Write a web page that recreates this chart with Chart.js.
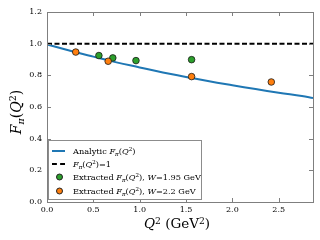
<!DOCTYPE html>
<html>
<head>
<meta charset="utf-8">
<script src="https://cdn.jsdelivr.net/npm/chart.js@4"></script>
<style>
  html, body { margin: 0; padding: 0; background: #fff; }
  #wrap { position: relative; width: 320px; height: 240px; font-family: "DejaVu Serif", serif; color: #000; }
  #chart { position: absolute; left: 0; top: 0; }
  .ttl { position: absolute; white-space: nowrap; line-height: 1; }
  .ttl sup, .leg sup { font-size: 68%; vertical-align: 0.5em; line-height: 0; }
  .ttl sub, .leg sub { font-size: 68%; vertical-align: -0.3em; line-height: 0; }
  #xtitle { left: 177px; top: 224px; font-size: 13.5px; transform: translate(-50%, -50%); }
  #ytitle { left: 16px; top: 112px; font-size: 14px; transform: translate(-50%, -50%) rotate(-90deg); }
  #legend { position: absolute; left: 48px; top: 140px; width: 152px; height: 58px; border: 1px solid #8c8c8c; background: #fff; }
  .leg { position: absolute; left: 24px; font-size: 8.2px; line-height: 1; white-space: nowrap; transform: translateY(-50%); }
  .sw-line { position: absolute; left: 3px; width: 13px; height: 0; }
  .sw-dot { position: absolute; left: 7px; width: 5px; height: 5px; border-radius: 50%; border: 0.8px solid #222; transform: translateY(-50%); }
</style>
</head>
<body>
<div id="wrap">
  <canvas id="chart" width="320" height="240"></canvas>
  <div class="ttl" id="xtitle"><i>Q</i><sup>2</sup> (GeV<sup>2</sup>)</div>
  <div class="ttl" id="ytitle"><i>F</i><sub><i>π</i></sub>(<i>Q</i><sup>2</sup>)</div>
  <div id="legend">
    <div class="sw-line" style="top:9px;border-top:2px solid #1f77b4"></div>
    <div class="leg" style="top:10px">Analytic <i>F</i><sub><i>π</i></sub>(<i>Q</i><sup>2</sup>)</div>
    <div class="sw-line" style="top:22px;border-top:2px dashed #000"></div>
    <div class="leg" style="top:23px"><i>F</i><sub><i>π</i></sub>(<i>Q</i><sup>2</sup>)=1</div>
    <div class="sw-dot" style="top:36px;background:#2ca02c"></div>
    <div class="leg" style="top:36px">Extracted <i>F</i><sub><i>π</i></sub>(<i>Q</i><sup>2</sup>), <i>W</i>=1.95 GeV</div>
    <div class="sw-dot" style="top:50px;background:#ff7f0e"></div>
    <div class="leg" style="top:50px">Extracted <i>F</i><sub><i>π</i></sub>(<i>Q</i><sup>2</sup>), <i>W</i>=2.2 GeV</div>
  </div>
</div>
<script>
'use strict';

// axis ticks
const xTicks = [0, 0.5, 1.0, 1.5, 2.0, 2.5];
const yTicks = [0, 0.2, 0.4, 0.6, 0.8, 1.0, 1.2];
const X_MAX = 2.87;

// analytic curve
const curveQ2 = [0, 0.25, 0.5, 0.75, 1.0, 1.25, 1.5, 1.75, 2.0, 2.25, 2.5, 2.75, 2.87];
const curveF  = [0.995, 0.955, 0.918, 0.882, 0.850, 0.818, 0.790, 0.762, 0.737, 0.713, 0.690, 0.669, 0.657];

// unity reference line
const unityQ2 = [0, 2.87];
const unityF  = [1.0, 1.0];

// extracted points, W = 1.95 GeV
const w195Q2 = [0.56, 0.71, 0.96, 1.56];
const w195F  = [0.925, 0.910, 0.893, 0.899];

// extracted points, W = 2.2 GeV
const w22Q2 = [0.31, 0.66, 1.56, 2.42];
const w22F  = [0.947, 0.889, 0.792, 0.758];

const pts = (xs, ys) => xs.map((x, i) => ({ x, y: ys[i] }));

const frame = {
  id: 'frame',
  afterDraw(chart) {
    const { ctx, chartArea: a, scales } = chart;
    ctx.save();
    ctx.strokeStyle = '#7f7f7f';
    ctx.lineWidth = 1;
    ctx.beginPath();
    xTicks.forEach(v => {
      const px = Math.round(scales.x.getPixelForValue(v)) + 0.5;
      ctx.moveTo(px, a.bottom); ctx.lineTo(px, a.bottom - 4);
      ctx.moveTo(px, a.top); ctx.lineTo(px, a.top + 4);
    });
    yTicks.forEach(v => {
      const py = Math.round(scales.y.getPixelForValue(v)) + 0.5;
      ctx.moveTo(a.left, py); ctx.lineTo(a.left + 4, py);
      ctx.moveTo(a.right, py); ctx.lineTo(a.right - 4, py);
    });
    ctx.stroke();
    ctx.strokeRect(Math.round(a.left) + 0.5, Math.round(a.top) + 0.5,
      Math.round(a.right - a.left), Math.round(a.bottom - a.top));
    ctx.restore();
  }
};

const tickFont = { family: 'DejaVu Serif', size: 8 };

new Chart(document.getElementById('chart'), {
  type: 'scatter',
  data: {
    datasets: [
      {
        type: 'line', data: pts(curveQ2, curveF), order: 3,
        borderColor: '#1f77b4', borderWidth: 2, pointRadius: 0, tension: 0.4, fill: false,
      },
      {
        type: 'line', data: pts(unityQ2, unityF), order: 2,
        borderColor: '#000', borderWidth: 2, borderDash: [5, 2.5], pointRadius: 0, fill: false,
      },
      {
        data: pts(w195Q2, w195F), order: 1,
        backgroundColor: '#2ca02c', borderColor: '#1a1a1a', borderWidth: 0.8, pointRadius: 3.3,
      },
      {
        data: pts(w22Q2, w22F), order: 0,
        backgroundColor: '#ff7f0e', borderColor: '#1a1a1a', borderWidth: 0.8, pointRadius: 3.3,
      },
    ],
  },
  options: {
    responsive: false,
    animation: false,
    devicePixelRatio: 1,
    layout: { padding: { left: 0, right: 7, top: 12, bottom: 0 } },
    plugins: { legend: { display: false }, tooltip: { enabled: false } },
    scales: {
      x: {
        type: 'linear', min: 0, max: X_MAX,
        grid: { display: false, drawTicks: false }, border: { display: false },
        afterBuildTicks: s => { s.ticks = xTicks.map(v => ({ value: v })); },
        afterFit: s => { s.height = 38; },
        ticks: { color: '#000', font: tickFont, padding: 3, maxRotation: 0, callback: v => v.toFixed(1) },
      },
      y: {
        type: 'linear', min: 0, max: 1.2,
        grid: { display: false, drawTicks: false }, border: { display: false },
        afterBuildTicks: s => { s.ticks = yTicks.map(v => ({ value: v })); },
        afterFit: s => { s.width = 47; },
        ticks: { color: '#000', font: tickFont, padding: 5, callback: v => v.toFixed(1) },
      },
    },
  },
  plugins: [frame],
});
</script>
</body>
</html>
